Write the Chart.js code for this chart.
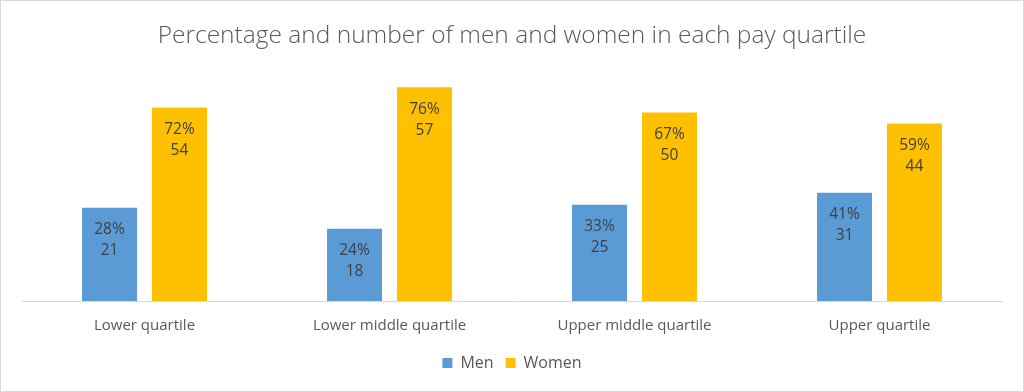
<!DOCTYPE html>
<html>
<head>
<meta charset="utf-8">
<script src="https://cdn.jsdelivr.net/npm/chart.js@4/dist/chart.umd.min.js"></script>
<style>
  html, body { margin: 0; padding: 0; background: #fff; }
  #wrap { width: 1022px; height: 390px; border: 1px solid #d9d9d9; position: relative; }
</style>
</head>
<body>
<div id="wrap"><canvas id="grafico"></canvas></div>
<script>
const categorias = ["Lower quartile", "Lower middle quartile", "Upper middle quartile", "Upper quartile"];
// bar heights
const barrasHomens = [33.2, 25.7, 34.3, 38.6];
const barrasMulheres = [68.9, 76.1, 67.1, 63.2];
// labels printed in the bars
const pctHomens = ["28%", "24%", "33%", "41%"];
const numHomens = ["21", "18", "25", "31"];
const pctMulheres = ["72%", "76%", "67%", "59%"];
const numMulheres = ["54", "57", "50", "44"];

const rotulos = [[pctHomens, numHomens], [pctMulheres, numMulheres]];

const rotulosBarras = {
  id: "rotulosBarras",
  afterDatasetsDraw(chart) {
    const ctx = chart.ctx;
    ctx.save();
    ctx.font = "15.5px 'Open Sans'";
    ctx.fillStyle = "#404040";
    ctx.textAlign = "center";
    ctx.textBaseline = "middle";
    chart.data.datasets.forEach((ds, i) => {
      const meta = chart.getDatasetMeta(i);
      meta.data.forEach((bar, j) => {
        ctx.fillText(rotulos[i][0][j], bar.x, bar.y + 22);
        ctx.fillText(rotulos[i][1][j], bar.x, bar.y + 43);
      });
    });
    ctx.restore();
  }
};

new Chart(document.getElementById("grafico"), {
  type: "bar",
  data: {
    labels: categorias,
    datasets: [
      { label: "Men", data: barrasHomens, backgroundColor: "#5B9BD5" },
      { label: "Women", data: barrasMulheres, backgroundColor: "#FFC000" }
    ]
  },
  options: {
    responsive: true,
    maintainAspectRatio: false,
    animation: false,
    categoryPercentage: 0.571,
    barPercentage: 0.786,
    layout: { padding: { left: 21, right: 21, top: 0, bottom: 10 } },
    plugins: {
      title: {
        display: true,
        text: "Percentage and number of men and women in each pay quartile",
        color: "#595959",
        font: { family: "'Open Sans'", size: 24.5, weight: "300" },
        padding: { top: 20, bottom: 26 }
      },
      legend: {
        position: "bottom",
        labels: {
          color: "#595959",
          font: { family: "'Open Sans'", size: 16 },
          boxWidth: 10,
          boxHeight: 10,
          padding: 12
        }
      },
      tooltip: { enabled: false }
    },
    scales: {
      x: {
        grid: { display: false, drawTicks: false },
        border: { color: "#d9d9d9" },
        ticks: { color: "#595959", font: { family: "'Open Sans'", size: 15 }, padding: 16 },
        afterFit: (escala) => { escala.height = 42; }
      },
      y: {
        display: false,
        min: 0,
        max: 80
      }
    }
  },
  plugins: [rotulosBarras]
});
</script>
</body>
</html>
